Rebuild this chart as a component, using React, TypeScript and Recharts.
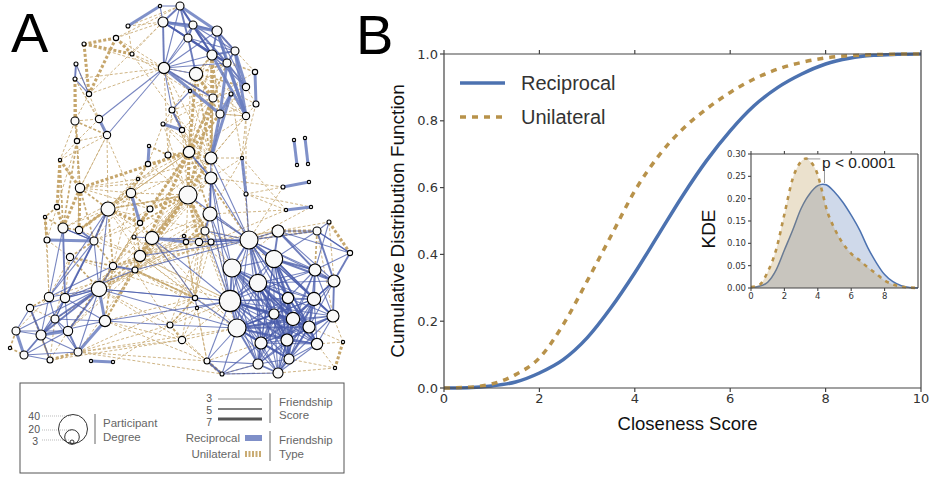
import { ComposedChart, ScatterChart, Scatter, Area, Line, XAxis, YAxis, ReferenceLine } from "recharts";

// network nodes: x, y in picture pixels, degree
const nodeX = [160,180,128,163,193,217,188,116,84,132,212,235,227,164,196,255,76,75,89,190,246,213,231,256,172,246,220,75,99,107,163,182,77,149,148,168,189,211,242,211,294,297,305,308,283,309,60,138,80,131,188,246,57,108,150,210,286,311,45,140,63,79,329,278,317,205,47,94,134,152,184,186,199,211,249,350,70,140,274,113,135,232,315,334,258,99,49,65,195,230,288,314,30,197,274,333,55,105,293,170,309,237,16,41,68,287,261,182,317,343,10,24,78,289,50,207,91,113,258,278,222,335];
const nodeY = [6,6,26,22,25,31,38,38,44,54,55,51,63,68,74,72,64,79,94,91,87,98,94,104,110,116,114,121,119,135,124,130,141,146,164,155,152,158,158,178,140,165,138,164,187,182,160,179,188,193,195,194,207,209,209,214,210,207,217,223,228,230,222,231,231,231,240,241,237,238,236,242,242,242,240,253,257,256,259,266,270,268,270,281,283,289,297,298,298,301,298,299,308,308,314,316,319,321,319,325,327,328,331,335,331,340,343,340,344,342,348,355,352,359,360,361,361,362,364,373,374,368];
const nodeDegree = [2,9,3,12,9,12,9,5,3,3,12,9,9,14,17,5,3,3,5,2,8,9,3,6,6,8,9,9,8,8,3,5,5,2,5,6,14,15,2,15,2,2,2,2,3,2,2,2,11,11,24,3,5,18,6,18,2,2,2,5,12,8,3,15,9,9,6,9,3,17,2,5,8,6,24,5,8,14,23,8,6,24,15,15,23,20,11,11,5,29,14,17,8,2,12,15,9,14,17,6,15,24,9,12,11,15,15,8,14,2,2,9,9,12,6,6,2,2,12,12,3,2];

// edges as pairs of node indexes, split by friendship type and score
const reciprocal7 = [[0,2],[40,41],[42,43],[44,45],[56,57],[116,117],[33,34],[30,31],[28,29],[15,23],[5,25],[11,25],[11,20],[12,25],[12,26],[26,37],[22,37],[22,26],[38,51],[13,26],[49,59],[69,71],[66,67],[85,97],[102,111],[103,104],[97,112],[1,5],[3,5],[10,25]];
const reciprocal5 = [[1,3],[1,4],[1,6],[1,10],[3,4],[3,6],[3,12],[4,5],[4,6],[4,10],[4,12],[5,10],[5,11],[5,12],[6,14],[6,12],[10,12],[10,11],[3,13],[12,20],[12,11],[13,21],[24,31],[36,39],[39,55],[55,65],[60,87],[61,67],[53,67],[67,87],[85,96],[85,103],[85,104],[96,103],[92,103],[103,111],[104,112],[79,80],[16,17],[74,78],[74,81],[78,82],[78,83],[63,78],[81,89],[84,89],[84,98],[89,101],[89,94],[94,98],[98,100],[90,98],[91,98],[94,105],[98,105],[100,105],[100,108],[105,113],[113,119],[101,106],[101,118],[82,91],[83,95],[91,95],[95,100],[64,83],[63,82],[84,90],[81,90],[75,83],[101,105],[115,120],[106,118],[84,94],[78,90],[78,91],[74,84],[101,94],[89,98],[106,113],[118,119],[89,105],[89,100],[101,98],[101,100],[94,100],[94,90],[90,100],[90,105],[91,100],[84,105],[84,100],[81,94],[81,98],[78,98],[78,100],[105,108],[98,108],[98,113],[94,113],[94,106],[101,113],[100,113]];
const reciprocal3 = [[0,1],[0,3],[13,28],[13,29],[13,1],[13,4],[13,5],[13,6],[13,10],[13,12],[13,14],[3,10],[6,10],[6,11],[4,11],[10,20],[5,20],[17,18],[16,18],[13,24],[24,19],[37,55],[39,74],[39,81],[55,74],[55,81],[65,89],[73,74],[72,74],[69,74],[69,89],[69,88],[53,85],[53,86],[67,86],[67,85],[67,96],[79,86],[80,87],[79,85],[85,86],[85,87],[85,92],[85,102],[85,112],[87,96],[87,103],[87,104],[86,96],[86,103],[96,104],[96,112],[97,103],[97,96],[97,87],[102,103],[102,104],[103,112],[103,114],[111,114],[111,112],[104,111],[92,102],[60,67],[60,86],[85,88],[85,101],[85,89],[97,99],[99,101],[97,89],[88,89],[88,93],[93,89],[88,101],[80,74],[77,74],[101,115],[115,118],[120,101],[115,89],[74,63],[63,64],[63,75],[64,75],[62,82],[62,64],[63,83],[74,64],[74,82],[74,83],[74,90],[74,91],[74,94],[74,98],[74,89],[74,101],[74,105],[78,84],[78,89],[78,94],[78,105],[78,108],[78,95],[78,64],[81,84],[81,101],[81,105],[81,106],[81,91],[81,78],[84,91],[84,106],[84,101],[84,113],[84,82],[84,83],[89,90],[89,91],[89,95],[89,106],[89,108],[89,113],[89,118],[89,82],[90,91],[90,108],[90,95],[90,82],[90,106],[90,113],[90,118],[90,119],[91,94],[91,105],[91,108],[91,83],[94,108],[94,118],[94,101],[94,119],[95,98],[95,108],[95,105],[98,106],[98,118],[98,119],[100,106],[100,119],[100,118],[101,108],[101,119],[105,106],[105,118],[105,119],[106,108],[106,119],[108,113],[108,119],[113,118],[82,95],[82,100],[82,83],[83,91],[83,100],[82,98],[82,105],[83,98],[83,105],[95,113],[95,106],[91,113],[91,106],[91,119],[84,108],[84,118],[84,119],[81,113],[81,118],[78,106],[78,113],[78,118],[89,119],[120,118],[120,106],[120,119],[75,64],[75,82],[51,74],[65,74],[37,74],[39,89],[55,89],[50,74],[68,69],[71,74],[67,60],[74,106],[74,100],[74,95],[101,90],[101,91],[101,95]];

const unilateral7 = [[7,8],[8,9],[7,9],[8,18],[7,18],[17,27],[10,37],[21,36],[14,36],[10,21],[14,21],[26,36],[21,50],[36,50],[37,50],[36,48],[46,48],[46,52],[48,60],[52,60],[58,66],[48,61],[53,61],[62,75],[63,64],[109,121],[115,120],[112,114],[54,50],[54,59],[36,59],[36,77],[50,77],[50,80],[59,53],[85,79],[65,50],[72,50]];
const unilateral5 = [[50,53],[85,80],[77,79],[53,79],[14,12],[14,10],[14,20],[14,26],[12,21],[10,26],[27,32],[27,29],[17,32],[32,48],[32,60],[46,60],[48,53],[48,67],[60,61],[61,53],[67,53],[67,76],[67,79],[76,79],[76,85],[80,97],[79,97],[77,85],[49,77],[49,53],[49,54],[47,53],[47,49],[59,69],[69,77],[69,50],[77,80],[80,69],[65,72],[65,71],[88,80],[88,99],[99,107],[64,74],[63,74],[64,82],[65,73],[37,36],[35,36],[36,34],[33,35],[34,47],[52,58],[58,60],[86,92],[92,114],[102,110],[110,111],[114,103],[79,104],[77,97],[36,55],[36,74],[50,55],[55,72],[55,71],[21,37],[14,37],[50,59],[80,88]];
const unilateral3 = [[2,3],[7,3],[9,13],[8,13],[18,13],[17,13],[18,28],[18,3],[7,13],[16,18],[9,19],[9,24],[3,9],[2,9],[1,7],[1,2],[13,19],[13,14],[14,25],[14,23],[21,25],[26,25],[20,23],[15,12],[15,5],[25,38],[25,37],[23,38],[23,37],[25,51],[22,25],[22,38],[24,36],[24,37],[30,50],[31,50],[31,36],[30,34],[31,37],[35,37],[35,50],[27,28],[27,46],[29,32],[29,48],[29,53],[28,32],[28,49],[32,52],[32,61],[29,46],[24,30],[21,39],[26,39],[38,39],[38,55],[37,51],[38,74],[51,74],[37,38],[39,50],[34,50],[34,49],[34,53],[35,49],[35,53],[47,48],[47,37],[48,39],[49,36],[49,50],[53,50],[53,36],[53,37],[54,36],[54,37],[53,88],[53,69],[53,77],[59,88],[69,88],[77,88],[77,89],[80,99],[80,101],[79,89],[79,74],[76,88],[60,53],[66,52],[66,76],[66,86],[76,86],[76,87],[76,96],[86,58],[86,102],[92,96],[96,114],[103,114],[104,114],[112,107],[97,107],[107,89],[99,89],[99,88],[112,99],[112,115],[114,107],[115,107],[107,120],[115,93],[99,93],[120,119],[118,120],[74,55],[74,57],[56,55],[56,73],[63,62],[64,62],[64,95],[83,62],[108,109],[108,121],[113,121],[119,121],[100,109],[95,109],[51,56],[51,57],[38,56],[44,51],[44,74],[39,44],[73,63],[72,63],[89,55],[89,50],[101,50],[101,77],[89,77],[101,69],[106,115],[65,81],[72,81],[73,81],[99,72],[107,72],[50,65],[50,73],[50,71],[77,71],[77,72],[85,73],[87,73],[104,77],[112,80],[112,88],[53,74],[69,73],[79,72],[80,72],[88,71],[80,65],[17,28],[17,29],[18,27],[32,46],[78,65],[81,63],[117,99],[13,21],[13,36],[13,37],[13,35],[13,31],[14,19],[14,24],[19,36],[19,37],[19,21],[21,24],[21,30],[21,31],[24,35],[24,39],[30,36],[30,37],[31,39],[10,14],[10,19],[10,36],[12,19],[12,36],[25,26],[25,36],[23,26],[20,26],[20,21],[15,21],[15,10],[36,47],[36,54],[36,69],[36,53],[37,69],[37,77],[39,54],[39,69],[39,77],[39,80],[39,65],[50,68],[50,79],[50,85],[55,69],[55,77],[55,80],[55,88],[65,77],[65,80],[65,88],[48,27],[48,29],[48,49],[48,54],[49,61],[49,60],[49,67],[49,79],[54,79],[54,67],[54,85],[59,67],[59,79],[59,85],[68,79],[68,80],[68,85],[77,67],[77,61],[77,87],[80,86],[80,96],[80,104],[85,99],[85,107],[97,88],[97,115],[112,101],[112,120],[99,115],[107,101],[88,115],[93,107],[70,77],[70,80],[70,88],[71,88],[72,88],[73,88]];

// closeness CDF
const cdfX = [0,0.5,1,1.5,2,2.5,3,3.5,4,4.5,5,5.5,6,6.5,7,7.5,8,8.5,9,9.5,10];
const cdfReciprocal = [0,0.001,0.006,0.018,0.045,0.085,0.15,0.24,0.345,0.46,0.575,0.68,0.77,0.845,0.9,0.94,0.97,0.987,0.996,0.999,1];
const cdfUnilateral = [0,0.002,0.012,0.04,0.09,0.19,0.32,0.455,0.59,0.695,0.775,0.835,0.885,0.925,0.955,0.975,0.988,0.995,0.998,0.9995,1];

// inset KDE
const kdeX = [0,0.5,1,1.5,2,2.5,3,3.3,3.5,4,4.3,4.5,5,5.5,6,6.5,7,7.5,8,8.5,9,9.5,10];
const kdeReciprocal = [0.001,0.004,0.013,0.04,0.085,0.13,0.178,0.199,0.21,0.229,0.2325,0.231,0.215,0.192,0.163,0.13,0.09,0.057,0.03,0.014,0.005,0.001,0];
const kdeUnilateral = [0.002,0.007,0.036,0.085,0.165,0.245,0.283,0.29,0.285,0.253,0.21,0.18,0.133,0.1,0.077,0.062,0.046,0.032,0.017,0.008,0.003,0.001,0];

const BLUE = "#4c72b0";
const TAN = "#b8924a";
const SANS = "'Liberation Sans', Arial, sans-serif";
const VERA = "'DejaVu Sans', sans-serif";

const nodes = nodeX.map((x, i) => ({ x, y: nodeY[i], degree: nodeDegree[i] }));
const cdfRows = cdfX.map((x, i) => ({ x, reciprocal: cdfReciprocal[i], unilateral: cdfUnilateral[i] }));
const kdeRows = kdeX.map((x, i) => ({ x, reciprocal: kdeReciprocal[i], unilateral: kdeUnilateral[i] }));

function NodeDot(props: any) {
  const r = 1 + props.payload.degree / 3;
  return <circle cx={props.cx} cy={props.cy} r={r} fill="#f9f9f9" stroke="#000" strokeWidth={1.1} />;
}

function edges(pairs: number[][], key: string, style: any) {
  return pairs.map(([a, b], i) => (
    <Scatter
      key={`${key}-${i}`}
      data={[nodes[a], nodes[b]]}
      line={style}
      shape={() => null}
      isAnimationActive={false}
    />
  ));
}

function NetworkChart() {
  return (
    <div style={{ position: "absolute", left: 0, top: 0 }}>
      <ScatterChart width={370} height={380} margin={{ top: 0, right: 0, bottom: 0, left: 0 }}>
        <XAxis type="number" dataKey="x" domain={[0, 370]} hide />
        <YAxis type="number" dataKey="y" domain={[0, 380]} reversed hide />
        {edges(unilateral3, "u3", { stroke: "#c9ad78", strokeWidth: 0.9, strokeDasharray: "3 2" })}
        {edges(unilateral5, "u5", { stroke: "#c6a870", strokeWidth: 1.7, strokeDasharray: "3 2" })}
        {edges(unilateral7, "u7", { stroke: "#c6a66c", strokeWidth: 3, strokeDasharray: "3 2" })}
        {edges(reciprocal3, "r3", { stroke: "#4a5cab", strokeWidth: 1.1, strokeOpacity: 0.75 })}
        {edges(reciprocal5, "r5", { stroke: "#4a5cab", strokeWidth: 1.9, strokeOpacity: 0.8 })}
        {edges(reciprocal7, "r7", { stroke: "#6a7ec0", strokeWidth: 3, strokeOpacity: 0.85 })}
        <Scatter data={nodes} shape={NodeDot} isAnimationActive={false} />
      </ScatterChart>
    </div>
  );
}

function NetworkKey() {
  const label = { fontFamily: SANS, fontSize: 11.5, fill: "#666" };
  const num = { fontFamily: SANS, fontSize: 10.5, fill: "#555", textAnchor: "end" as const };
  return (
    <svg width={933} height={478} style={{ position: "absolute", left: 0, top: 0, pointerEvents: "none" }}>
      <rect x={20} y={383} width={324} height={90} fill="none" stroke="#555" strokeWidth={1} />
      <text x={40} y={420} {...num}>40</text>
      <text x={40} y={433} {...num}>20</text>
      <text x={38} y={445} {...num}>3</text>
      <path d="M42 416H72M42 430H72M42 440H70" stroke="#aaa" strokeWidth={0.8} strokeDasharray="1 1" />
      <circle cx={73} cy={429} r={14.5} fill="none" stroke="#333" strokeWidth={1} />
      <circle cx={72} cy={437} r={7.3} fill="none" stroke="#333" strokeWidth={1} />
      <circle cx={72} cy={442} r={2} fill="none" stroke="#333" strokeWidth={1} />
      <path d="M95 414V444M270 393V423M270 431V461" stroke="#666" strokeWidth={1} />
      <text x={103} y={427} {...label}>Participant</text>
      <text x={103} y={441} {...label}>Degree</text>
      <text x={212} y={402} {...num}>3</text>
      <text x={212} y={414} {...num}>5</text>
      <text x={212} y={426} {...num}>7</text>
      <path d="M218 399H262" stroke="#888" strokeWidth={1} />
      <path d="M218 409H262" stroke="#555" strokeWidth={1.5} />
      <path d="M218 419H262" stroke="#555" strokeWidth={3} />
      <text x={279} y={406} {...label}>Friendship</text>
      <text x={279} y={419} {...label}>Score</text>
      <text x={240} y={442} {...label} textAnchor="end">Reciprocal</text>
      <text x={240} y={458} {...label} textAnchor="end">Unilateral</text>
      <rect x={245} y={435} width={17} height={6} fill="#7f8fc8" />
      <path d="M245 454H262" stroke="#c9ab72" strokeWidth={6} strokeDasharray="2 1.5" />
      <text x={279} y={444} {...label}>Friendship</text>
      <text x={279} y={458} {...label}>Type</text>
    </svg>
  );
}

function CdfLegend() {
  const row = (y: number, name: string, stroke: string, dash?: string) => (
    <>
      <line x1={460} x2={505} y1={y} y2={y} stroke={stroke} strokeWidth={3.5} strokeDasharray={dash} />
      <text x={521} y={y + 7} fontFamily={SANS} fontSize={20} fill="#333">{name}</text>
    </>
  );
  return (
    <svg width={933} height={478} style={{ position: "absolute", left: 0, top: 0, pointerEvents: "none" }}>
      {row(83, "Reciprocal", BLUE)}
      {row(117, "Unilateral", TAN, "6 6")}
    </svg>
  );
}

function CdfChart() {
  const tick = { fontFamily: VERA, fontSize: 13, fill: "#333" };
  const axis = { stroke: "#444", strokeWidth: 1.2 };
  return (
    <div style={{ position: "absolute", left: 380, top: 0 }}>
      <ComposedChart width={553} height={478} data={cdfRows} margin={{ top: 0, right: 0, bottom: 0, left: 0 }}>
        <XAxis
          xAxisId="bottom"
          type="number"
          dataKey="x"
          domain={[0, 10]}
          ticks={[0, 2, 4, 6, 8, 10]}
          height={90}
          tick={tick}
          tickSize={4}
          axisLine={axis}
          tickLine={axis}
          label={{ value: "Closeness Score", position: "insideTop", offset: 29, dx: 5, fontFamily: SANS, fontSize: 18.5, fill: "#111" }}
        />
        <XAxis
          xAxisId="top"
          orientation="top"
          type="number"
          dataKey="x"
          domain={[0, 10]}
          ticks={[0, 2, 4, 6, 8, 10]}
          height={54}
          tickFormatter={() => ""}
          tickSize={4}
          axisLine={axis}
          tickLine={axis}
        />
        <YAxis
          yAxisId="left"
          type="number"
          domain={[0, 1]}
          ticks={[0, 0.2, 0.4, 0.6, 0.8, 1]}
          tickFormatter={(v: number) => v.toFixed(1)}
          width={64}
          tick={tick}
          tickSize={4}
          axisLine={axis}
          tickLine={axis}
          label={{ value: "Cumulative Distribution Function", angle: -90, position: "insideLeft", offset: 17, fontFamily: SANS, fontSize: 19, fill: "#111", style: { textAnchor: "middle" } }}
        />
        <YAxis yAxisId="right" orientation="right" type="number" domain={[0, 1]} width={12} tick={false} tickLine={false} axisLine={axis} />
        <Line xAxisId="bottom" yAxisId="left" type="monotone" dataKey="reciprocal" stroke={BLUE} strokeWidth={3.5} dot={false} isAnimationActive={false} />
        <Line xAxisId="bottom" yAxisId="left" type="monotone" dataKey="unilateral" stroke={TAN} strokeWidth={3.5} strokeDasharray="6 6" dot={false} isAnimationActive={false} />
      </ComposedChart>
    </div>
  );
}

function KdeInset() {
  const tick = { fontFamily: VERA, fontSize: 8.5, fill: "#333" };
  const axis = { stroke: "#444", strokeWidth: 1.1 };
  return (
    <div style={{ position: "absolute", left: 680, top: 140 }}>
      <ComposedChart width={253} height={180} data={kdeRows} margin={{ top: 0, right: 0, bottom: 0, left: 0 }}>
        <XAxis xAxisId="bottom" type="number" dataKey="x" domain={[0, 10]} ticks={[0, 2, 4, 6, 8]} height={32} tick={tick} tickSize={3} axisLine={axis} tickLine={axis} />
        <XAxis xAxisId="top" orientation="top" type="number" dataKey="x" domain={[0, 10]} ticks={[0, 2, 4, 6, 8]} height={14} tickFormatter={() => ""} tickSize={3} axisLine={axis} tickLine={axis} />
        <YAxis
          yAxisId="left"
          type="number"
          domain={[0, 0.3]}
          ticks={[0, 0.05, 0.1, 0.15, 0.2, 0.25, 0.3]}
          tickFormatter={(v: number) => v.toFixed(2)}
          width={71}
          tick={tick}
          tickSize={3}
          axisLine={axis}
          tickLine={axis}
          label={{ value: "KDE", angle: -90, position: "insideLeft", offset: 28, dy: 8, fontFamily: SANS, fontSize: 19, fill: "#111", style: { textAnchor: "middle" } }}
        />
        <YAxis yAxisId="right" orientation="right" type="number" domain={[0, 0.3]} width={15} tick={false} tickLine={false} axisLine={axis} />
        <Area xAxisId="bottom" yAxisId="left" type="monotone" dataKey="reciprocal" stroke={BLUE} strokeWidth={1.5} fill={BLUE} fillOpacity={0.27} dot={false} isAnimationActive={false} />
        <Area xAxisId="bottom" yAxisId="left" type="monotone" dataKey="unilateral" stroke={TAN} strokeWidth={2.6} strokeDasharray="4 5" fill={TAN} fillOpacity={0.28} dot={false} isAnimationActive={false} />
        <ReferenceLine xAxisId="bottom" yAxisId="left" segment={[{ x: 3.35, y: 0.289 }, { x: 4.15, y: 0.289 }]} stroke="#999" strokeWidth={1} />
        <ReferenceLine xAxisId="bottom" yAxisId="left" segment={[{ x: 4.4, y: 0.265 }, { x: 4.4, y: 0.235 }]} stroke="#999" strokeWidth={1} />
      </ComposedChart>
    </div>
  );
}

export default function App() {
  const big = { position: "absolute" as const, fontFamily: SANS, fontSize: 56, color: "#000" };
  return (
    <div style={{ position: "absolute", left: 0, top: 0, width: 933, height: 478, overflow: "hidden", background: "#fff" }}>
      <NetworkChart />
      <NetworkKey />
      <CdfChart />
      <KdeInset />
      <CdfLegend />
      <div style={{ ...big, left: 11, top: 0 }}>A</div>
      <div style={{ ...big, left: 356, top: 2 }}>B</div>
      <div style={{ position: "absolute", left: 822, top: 154, fontFamily: SANS, fontSize: 15.5, color: "#222" }}>p &lt; 0.0001</div>
    </div>
  );
}
